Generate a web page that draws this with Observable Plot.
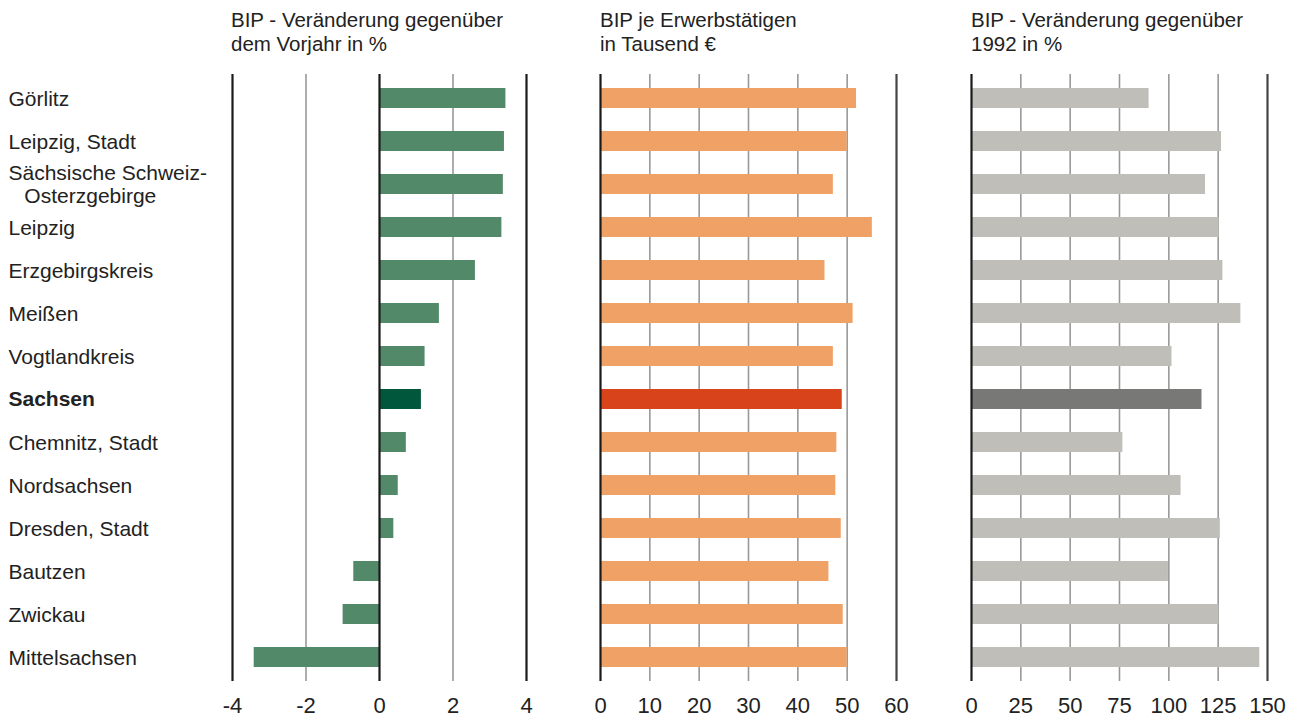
<!DOCTYPE html>
<html>
<head>
<meta charset="utf-8">
<script src="https://cdn.jsdelivr.net/npm/d3@7"></script>
<script src="https://cdn.jsdelivr.net/npm/@observablehq/plot@0.6"></script>
<style>
  html, body { margin: 0; padding: 0; background: #fff; }
  #root { position: relative; width: 1298px; height: 718px; font-family: "Liberation Sans", Arial, sans-serif; color: #222; overflow: hidden; }
  .title { position: absolute; top: 8px; font-size: 20.5px; line-height: 24px; white-space: nowrap; color: #222; }
  .panel { position: absolute; top: 0; }
</style>
</head>
<body>
<div id="root"></div>
<script>
const regions = ["Görlitz","Leipzig, Stadt","Sächsische Schweiz-\n\u00a0\u00a0\u2009Osterzgebirge","Leipzig","Erzgebirgskreis","Meißen","Vogtlandkreis","Sachsen","Chemnitz, Stadt","Nordsachsen","Dresden, Stadt","Bautzen","Zwickau","Mittelsachsen"];
const highlight = "Sachsen";
const gdpChangePrevYear = [3.44,3.40,3.37,3.33,2.61,1.63,1.24,1.14,0.73,0.51,0.39,-0.70,-0.99,-3.41];
const gdpPerWorker = [51.9,50.0,47.2,55.1,45.5,51.2,47.2,49.0,47.9,47.7,48.8,46.3,49.2,50.0];
const gdpChange1992 = [90.0,126.7,118.6,125.5,127.4,136.5,101.6,116.8,76.7,106.2,126.1,99.8,125.4,146.1];
const ticks1 = [-4,-2,0,2,4];
const ticks2 = [0,10,20,30,40,50,60];
const ticks3 = [0,25,50,75,100,125,150];
const titles = ["BIP - Veränderung gegenüber\ndem Vorjahr in %","BIP je Erwerbstätigen\nin Tausend €","BIP - Veränderung gegenüber\n1992 in %"];

const root = document.getElementById("root");

function panel({values, ticks, grid, edges, base, hi, left, width, marginLeft, marginRight, withLabels}) {
  const data = regions.map((name, i) => ({name, v: values[i]}));
  const marks = [
    Plot.ruleX(grid, {stroke: "#999", strokeWidth: 1.6}),
    Plot.barX(data.filter(d => d.name !== highlight), {x1: 0, x2: "v", y: "name", fill: base}),
    Plot.barX(data.filter(d => d.name === highlight), {x1: 0, x2: "v", y: "name", fill: hi}),
    ...edges.map(e => Plot.ruleX([e.x], {stroke: e.c, strokeWidth: 2.2}))
  ];
  if (withLabels) {
    marks.push(Plot.text(regions.filter(r => r !== highlight), {y: d => d, text: d => d, frameAnchor: "left", textAnchor: "start", dx: 8 - marginLeft, fontSize: 21, lineHeight: 1.08, fill: "#222"}));
    marks.push(Plot.text([highlight], {y: d => d, text: d => d, frameAnchor: "left", textAnchor: "start", dx: 8 - marginLeft, fontSize: 21, fontWeight: "bold", fill: "#222"}));
  }
  const svg = Plot.plot({
    width, height: 718,
    marginLeft, marginRight, marginTop: 74, marginBottom: 37,
    style: {fontFamily: "Liberation Sans, Arial, sans-serif", fontSize: "22px", color: "#222", background: "transparent", overflow: "visible"},
    x: {domain: [ticks[0], ticks[ticks.length - 1]], ticks, tickSize: 0, tickPadding: 16, label: null, tickFormat: d => String(d)},
    y: {domain: regions, axis: null, paddingInner: 0.54, paddingOuter: 0.27},
    marks
  });
  const wrap = document.createElement("div");
  wrap.className = "panel";
  wrap.style.left = left + "px";
  wrap.appendChild(svg);
  root.appendChild(wrap);
}

panel({values: gdpChangePrevYear, ticks: ticks1, grid: [-2, 2],
  edges: [{x: -4, c: "#1a1a1a"}, {x: 0, c: "#1a1a1a"}, {x: 4, c: "#1a1a1a"}],
  base: "#528969", hi: "#00573b", left: 0, width: 560, marginLeft: 232, marginRight: 34, withLabels: true});
panel({values: gdpPerWorker, ticks: ticks2, grid: [10, 20, 30, 40, 50],
  edges: [{x: 0, c: "#1a1a1a"}, {x: 60, c: "#444"}],
  base: "#f0a166", hi: "#d9431b", left: 560, width: 370, marginLeft: 40, marginRight: 34, withLabels: false});
panel({values: gdpChange1992, ticks: ticks3, grid: [25, 50, 75, 100, 125],
  edges: [{x: 0, c: "#1a1a1a"}, {x: 150, c: "#444"}],
  base: "#bfbeb9", hi: "#787877", left: 930, width: 368, marginLeft: 41, marginRight: 31, withLabels: false});

const titleLefts = [231, 600, 971];
titles.forEach((t, i) => {
  const d = document.createElement("div");
  d.className = "title";
  d.style.left = titleLefts[i] + "px";
  d.innerHTML = t.split("\n").map(s => s.replace(/&/g, "&amp;").replace(/</g, "&lt;")).join("<br>");
  root.appendChild(d);
});
</script>
</body>
</html>
